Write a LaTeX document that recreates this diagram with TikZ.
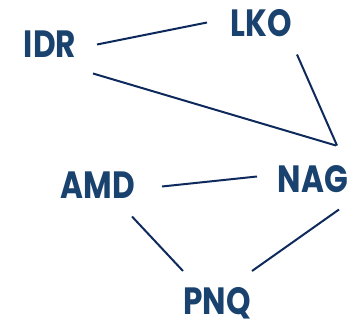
\documentclass[tikz,border=0pt]{standalone}
\usepackage{fontspec}
\setmainfont{Poppins}
\usetikzlibrary{calc}
\definecolor{txt}{HTML}{1A426E}
\definecolor{ln}{HTML}{0E2A5C}
\newcommand{\narrow}[1]{\scalebox{0.82}[1]{#1}}
\tikzset{
  city/.style={text=txt, font=\fontsize{38}{38}\selectfont\bfseries, inner sep=0pt, text height=27pt, text depth=0pt},
  link/.style={draw=ln, line width=2pt}
}
\begin{document}
\begin{tikzpicture}[x=1pt,y=-1pt]
\useasboundingbox (0,0) rectangle (350,321);
\node[city] (IDR) at (50,43.5) {\narrow{IDR}};
\node[city] (LKO) at (261,23.5) {\narrow{LKO}};
\node[city] (NAG) at (313,178.5) {\narrow{NAG}};
\node[city] (AMD) at (98,184.5) {\narrow{AMD}};
\node[city] (PNQ) at (217,301) {\narrow{PNQ}};
\draw[link] ($(IDR)+(47,1)$) -- ($(LKO)+(-54,-1)$);
\draw[link] ($(IDR)+(43,30)$) -- ($(NAG)+(23,-33)$);
\draw[link] ($(LKO)+(36,31)$) -- ($(NAG)+(24,-33)$);
\draw[link] ($(AMD)+(64,2)$) -- ($(NAG)+(-56,-2)$);
\draw[link] ($(AMD)+(34,32)$) -- ($(PNQ)+(-34,-30)$);
\draw[link] ($(NAG)+(26,31)$) -- ($(PNQ)+(35,-30)$);
\end{tikzpicture}
\end{document}
